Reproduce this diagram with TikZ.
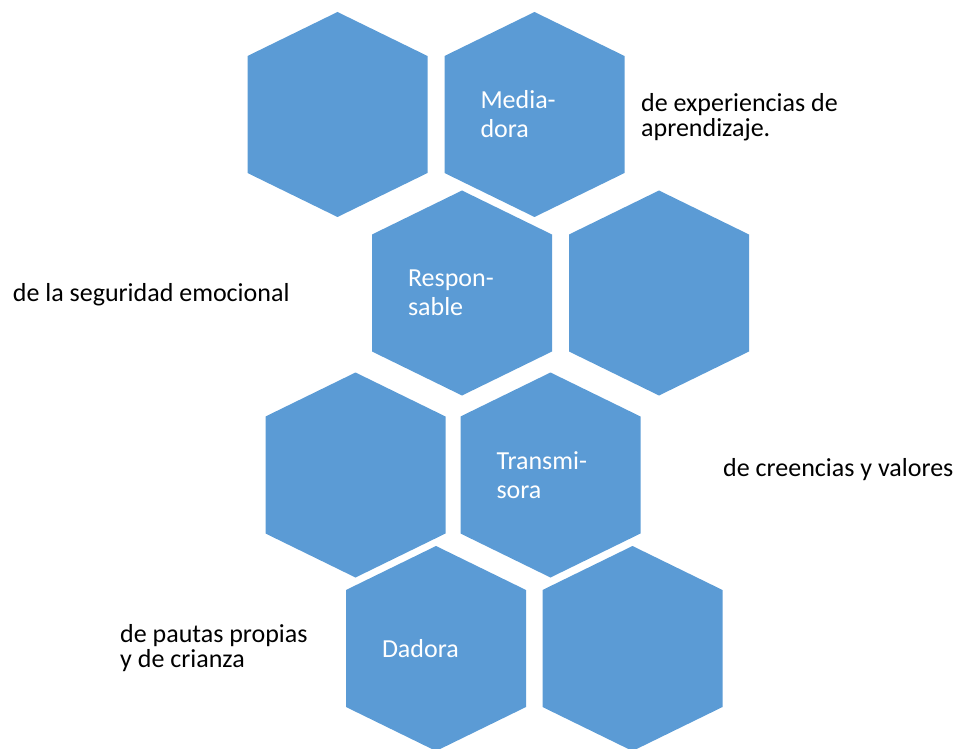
\documentclass[tikz,border=0pt]{standalone}
\usepackage{fontspec}
\setmainfont{Carlito}
\definecolor{hexblue}{HTML}{5B9BD5}
\newcommand{\hexw}{90}
\newcommand{\hexa}[4]{%
    \fill[hexblue] (#2,#3) ++(0,-102.5) -- ++(\hexw,44) -- ++(0,117) -- ++(-\hexw,44) -- ++(-\hexw,-44) -- ++(0,-117) -- cycle;
    \node[hexlabel] (#1) at (#2,#3) {#4};}

\begin{document}
\begin{tikzpicture}[x=1pt, y=-1pt,
    hexlabel/.style={text=white, text width=108pt, align=left, inner sep=0pt, font=\fontsize{26}{29}\selectfont},
    desc/.style={text=black, align=left, inner sep=0pt, font=\fontsize{26}{24.5}\selectfont}]
    \useasboundingbox (0,0) rectangle (962,749);

    % First row
    \hexa{hex-1-1}{337.5}{114.5}{}
    \hexa{hex-1-2}{534.5}{114.5}{Media-\\dora}

    % Second row
    \hexa{hex-2-1}{462}{293}{Respon-\\sable}
    \hexa{hex-2-2}{659}{293}{}

    % Third row
    \hexa{hex-3-1}{355.5}{475}{}
    \hexa{hex-3-2}{550.5}{475}{Transmi-\\sora}

    % Fourth row
    \hexa{hex-4-1}{436}{648.5}{Dadora}
    \hexa{hex-4-2}{632.5}{648.5}{}

    % Descriptions
    \node[desc, anchor=west] (desc-1) at (641,117) {de experiencias de\\aprendizaje.};
    \node[desc, anchor=base west] (desc-2) at (12.7,301.7) {de la seguridad emocional};
    \node[desc, anchor=base west] (desc-3) at (723,476.7) {de creencias y valores};
    \node[desc, anchor=west] (desc-4) at (120,648) {de pautas propias\\y de crianza};

\end{tikzpicture}
\end{document}
